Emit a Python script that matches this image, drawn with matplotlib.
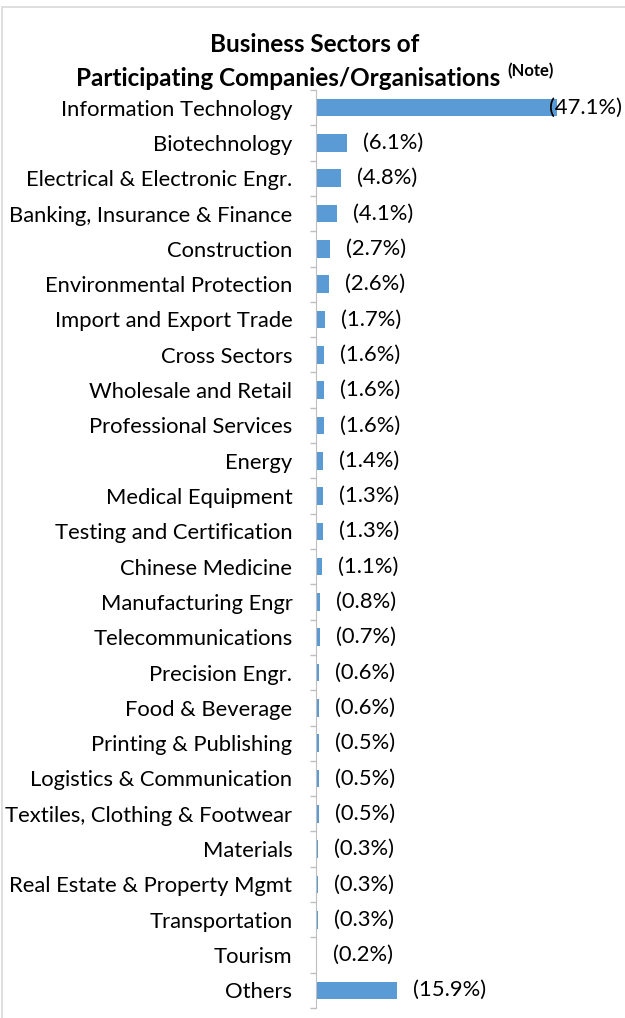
import matplotlib
matplotlib.use("Agg")
import matplotlib.pyplot as plt
from matplotlib.patches import Rectangle
import numpy as np

# chart data
sectors = [
    "Information Technology", "Biotechnology", "Electrical & Electronic Engr.",
    "Banking, Insurance & Finance", "Construction", "Environmental Protection",
    "Import and Export Trade", "Cross Sectors", "Wholesale and Retail",
    "Professional Services", "Energy", "Medical Equipment",
    "Testing and Certification", "Chinese Medicine", "Manufacturing Engr",
    "Telecommunications", "Precision Engr.", "Food & Beverage",
    "Printing & Publishing", "Logistics & Communication",
    "Textiles, Clothing & Footwear", "Materials", "Real Estate & Property Mgmt",
    "Transportation", "Tourism", "Others",
]
shares = [47.1, 6.1, 4.8, 4.1, 2.7, 2.6, 1.7, 1.6, 1.6, 1.6, 1.4, 1.3, 1.3,
          1.1, 0.8, 0.7, 0.6, 0.6, 0.5, 0.5, 0.5, 0.3, 0.3, 0.3, 0.2, 15.9]

W, H = 625, 1018
FONT = "Lato"
FS = 15.8
bar_color = "#5B9BD5"
grey = "#BFBFBF"

fig = plt.figure(figsize=(W / 100, H / 100), dpi=100)

# outer border of the chart area
fig.patches.append(Rectangle((2 / W, -0.01), 1.0, 1 - 7 / H + 0.01,
                             transform=fig.transFigure, fill=False,
                             edgecolor="#D9D9D9", linewidth=1.2))

ax = fig.add_axes([316 / W, 10 / H, (W - 316) / W, 918 / H])
ax.patch.set_alpha(0)

y = np.arange(len(sectors))
ax.barh(y, shares, height=0.5, color=bar_color)
ax.set_ylim(len(sectors) - 0.5, -0.5)
xmax = (W - 316) / 5.12
ax.set_xlim(0, xmax)

# value labels, kept inside the plot area
for yi, v in zip(y, shares):
    txt = f"({v}%)"
    if v > 40:
        ax.annotate(txt, (1, yi), xycoords=("axes fraction", "data"),
                    xytext=(-2, 0), textcoords="offset points",
                    ha="right", va="center", fontsize=FS, family=FONT)
    else:
        ax.annotate(txt, (v, yi), xytext=(11.5, 0), textcoords="offset points",
                    ha="left", va="center", fontsize=FS, family=FONT)

for s in ["top", "right", "bottom"]:
    ax.spines[s].set_visible(False)
ax.spines["left"].set_color(grey)
ax.xaxis.set_visible(False)

ax.set_yticks(y)
ax.set_yticklabels(sectors, fontsize=FS, family=FONT)
ax.tick_params(axis="y", which="major", length=0, pad=17)
ax.set_yticks(np.arange(-0.5, len(sectors), 1), minor=True)
ax.tick_params(axis="y", which="minor", length=4, color=grey, width=1)

fig.text(315 / W, 1 - 45 / H, "Business Sectors of", ha="center", va="center",
         fontsize=17.5, fontweight="bold", family=FONT)
fig.text(288 / W, 1 - 78 / H, "Participating Companies/Organisations",
         ha="center", va="center", fontsize=17.5, fontweight="bold", family=FONT)
fig.text(507 / W, 1 - 71 / H, "(Note)", ha="left", va="center",
         fontsize=12, fontweight="bold", family=FONT)

fig.savefig("out.png", dpi=100)
